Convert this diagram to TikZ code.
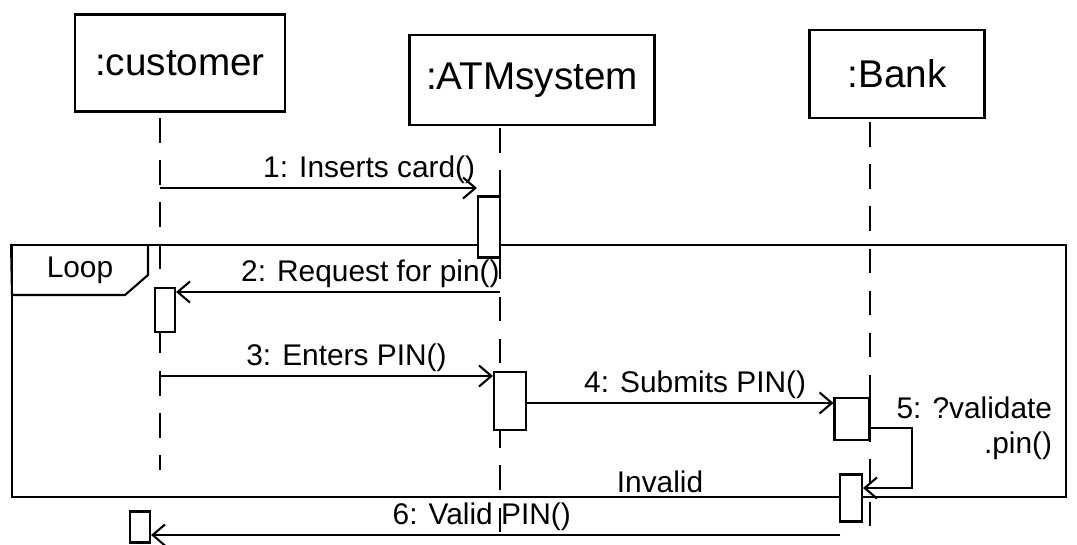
\documentclass[tikz,border=0pt]{standalone}
\usepackage{fontspec}
\setmainfont{Liberation Sans}
\usetikzlibrary{positioning,arrows.meta}
\begin{document}
\begin{tikzpicture}[x=0.02cm, y=-0.02cm, line width=1.2pt,
        >={Straight Barb[length=7pt,width=12pt]},
        head/.style={draw, inner sep=0pt, font=\fontsize{22}{26}\selectfont},
        act/.style={draw, fill=white, inner sep=0pt},
        lifeline/.style={dashed, line width=1pt, dash pattern=on 14pt off 10pt},
        lbl/.style={font=\fontsize{17}{20}\selectfont, inner sep=2pt}]
        \useasboundingbox (0,0) rectangle (1077,544);
        % objects
        \node [head, minimum width=4.2cm, minimum height=1.94cm] (cust) at (180,63) {:customer};
        \node [head, minimum width=4.9cm, minimum height=1.8cm] (atm) at (532,80) {:ATMsystem};
        \node [head, minimum width=3.5cm, minimum height=1.76cm] (bank) at (897,74) {:Bank};
        % lifelines
        \coordinate (custtop) at (160,118);
        \coordinate (atmtop) at (500,128);
        \coordinate (banktop) at (870,122);
        \draw [lifeline] (custtop) -- (160,470);
        \draw [lifeline] (atmtop) -- (500,540);
        \draw [lifeline] (banktop) -- (870,530);
        % loop frame
        \node [draw, minimum width=21.08cm, minimum height=5.04cm, inner sep=0pt] (loop) at (539,371) {};
        \draw (loop.north west) -- (12,295) -- (125,295) -- (148,275) -- (148,245);
        \path (80,270) node [lbl] (looptag) {Loop};
        \path (660,497) node [lbl, anchor=south] (guard) {Invalid};
        % activations
        \node [act, minimum width=0.44cm, minimum height=1.22cm] (a1) at (489,227) {};
        \node [act, minimum width=0.4cm, minimum height=0.88cm] (c1) at (165,310) {};
        \node [act, minimum width=0.64cm, minimum height=1.16cm] (a2) at (510,401) {};
        \node [act, minimum width=0.7cm, minimum height=0.84cm] (b1) at (852,419) {};
        \node [act, minimum width=0.44cm, minimum height=0.94cm] (b2) at (851,498) {};
        \node [act, minimum width=0.4cm, minimum height=0.62cm] (c2) at (140,527) {};
        % messages
        \coordinate (m1) at (160,188);
        \draw [->] (m1) -- (m1 -| a1.west) node [lbl, pos=0.66, anchor=south] {1: Inserts card()};
        \coordinate (m2) at (500,292);
        \draw [->] (m2) -- (m2 -| c1.east) node [lbl, pos=0.4, anchor=south] {2: Request for pin()};
        \coordinate (m3) at (160,376);
        \draw [->] (m3) -- (m3 -| a2.west) node [lbl, pos=0.56, anchor=south] {3: Enters PIN()};
        \coordinate (m4) at (526,403);
        \draw [->] (m4) -- (m4 -| b1.west) node [lbl, pos=0.55, anchor=south] {4: Submits PIN()};
        \coordinate (m5) at (870,428);
        \coordinate (m5turn) at (912,428);
        \draw [->] (m5) -- (m5turn) -- (912,488) -- (b2.east |- 0,488);
        \path (892,392) node [lbl, anchor=north west, align=right] (m5lbl) {5: ?validate\\.pin()};
        \coordinate (m6) at (840,535);
        \draw [->] (m6) -- (m6 -| c2.east) node [lbl, pos=0.52, anchor=south] {6: Valid PIN()};
    \end{tikzpicture}
\end{document}
